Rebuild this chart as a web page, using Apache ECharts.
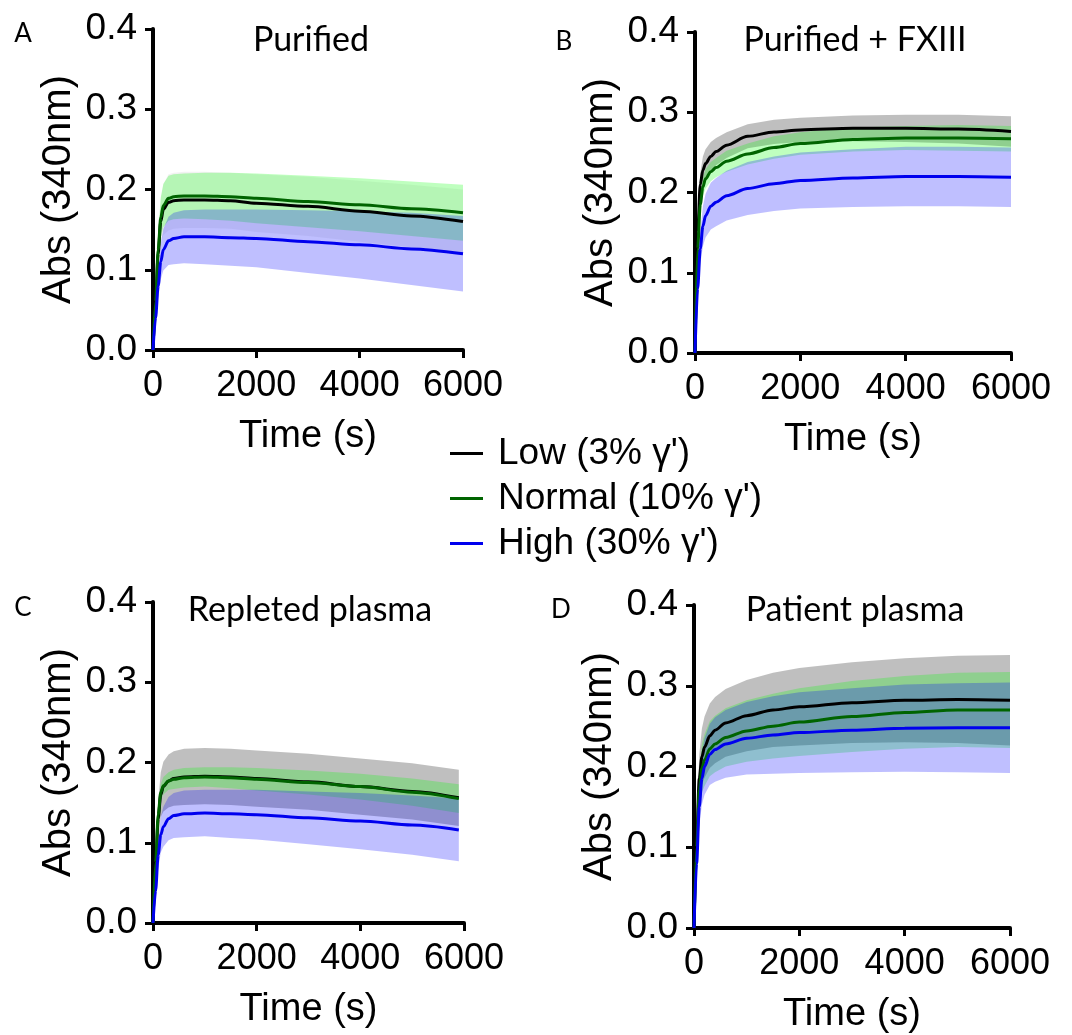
<!DOCTYPE html>
<html>
<head>
<meta charset="utf-8">
<script src="https://cdn.jsdelivr.net/npm/echarts@6/dist/echarts.min.js"></script>
<style>
  html, body { margin: 0; padding: 0; background: #fff; }
  #chart { width: 1072px; height: 1035px; }
</style>
</head>
<body>
<div id="chart"></div>
<script>
// time points (s)
const time = [0, 50, 100, 150, 200, 300, 400, 600, 1000, 1500, 2000, 3000, 4000, 5000, 6000];
const timeC = [0, 50, 100, 150, 200, 300, 400, 600, 1000, 1500, 2000, 3000, 4000, 5000, 5900];

const seriesNames = ["Low (3% \u03b3')", "Normal (10% \u03b3')", "High (30% \u03b3')"];

// A: Purified
const lowA = [0, 0.06, 0.12, 0.16, 0.175, 0.184, 0.186, 0.187, 0.187, 0.186, 0.183, 0.179, 0.173, 0.167, 0.160];
const normalA = [0, 0.06, 0.125, 0.165, 0.18, 0.189, 0.191, 0.192, 0.192, 0.191, 0.189, 0.185, 0.181, 0.176, 0.171];
const highA = [0, 0.04, 0.08, 0.11, 0.125, 0.136, 0.139, 0.141, 0.141, 0.140, 0.139, 0.135, 0.131, 0.126, 0.120];
const lowSdA = [0, 0.01, 0.02, 0.028, 0.032, 0.035, 0.035, 0.035, 0.035, 0.035, 0.036, 0.037, 0.038, 0.039, 0.04];
const normalSdA = [0, 0.01, 0.02, 0.025, 0.027, 0.028, 0.028, 0.028, 0.029, 0.03, 0.031, 0.032, 0.033, 0.034, 0.035];
const highSdA = [0, 0.008, 0.016, 0.022, 0.026, 0.03, 0.032, 0.033, 0.034, 0.035, 0.036, 0.039, 0.042, 0.045, 0.047];

// B: Purified + FXIII
const lowB = [0, 0.15, 0.21, 0.228, 0.236, 0.245, 0.251, 0.259, 0.270, 0.2755, 0.278, 0.280, 0.280, 0.279, 0.276];
const normalB = [0, 0.13, 0.185, 0.207, 0.217, 0.226, 0.231, 0.239, 0.248, 0.256, 0.261, 0.266, 0.268, 0.268, 0.267];
const highB = [0, 0.08, 0.13, 0.158, 0.171, 0.183, 0.188, 0.196, 0.205, 0.211, 0.215, 0.218, 0.220, 0.220, 0.219];
const lowSdB = [0, 0.008, 0.014, 0.017, 0.018, 0.018, 0.017, 0.016, 0.015, 0.015, 0.015, 0.016, 0.017, 0.018, 0.019];
const normalSdB = [0, 0.006, 0.01, 0.011, 0.012, 0.012, 0.012, 0.013, 0.013, 0.014, 0.014, 0.015, 0.015, 0.016, 0.016];
const highSdB = [0, 0.01, 0.02, 0.025, 0.027, 0.029, 0.03, 0.031, 0.033, 0.034, 0.035, 0.036, 0.037, 0.037, 0.037];

// C: Repleted plasma
const lowC = [0, 0.07, 0.13, 0.16, 0.170, 0.177, 0.180, 0.182, 0.183, 0.182, 0.180, 0.176, 0.170, 0.164, 0.156];
const normalC = [0, 0.075, 0.135, 0.163, 0.171, 0.177, 0.179, 0.181, 0.182, 0.181, 0.179, 0.175, 0.170, 0.163, 0.155];
const highC = [0, 0.04, 0.085, 0.11, 0.12, 0.130, 0.134, 0.136, 0.137, 0.136, 0.135, 0.131, 0.127, 0.122, 0.116];
const lowSdC = [0, 0.012, 0.022, 0.028, 0.031, 0.033, 0.034, 0.035, 0.035, 0.035, 0.035, 0.035, 0.035, 0.035, 0.035];
const normalSdC = [0, 0.005, 0.008, 0.01, 0.011, 0.011, 0.012, 0.012, 0.012, 0.013, 0.014, 0.015, 0.016, 0.017, 0.018];
const highSdC = [0, 0.01, 0.018, 0.022, 0.025, 0.027, 0.028, 0.029, 0.029, 0.03, 0.031, 0.033, 0.035, 0.037, 0.039];

// D: Patient plasma
const lowD = [0, 0.11, 0.185, 0.212, 0.224, 0.238, 0.245, 0.254, 0.263, 0.270, 0.274, 0.279, 0.282, 0.283, 0.282];
const normalD = [0, 0.10, 0.17, 0.198, 0.208, 0.222, 0.228, 0.236, 0.244, 0.250, 0.255, 0.262, 0.267, 0.270, 0.270];
const highD = [0, 0.08, 0.15, 0.185, 0.200, 0.215, 0.221, 0.228, 0.235, 0.239, 0.242, 0.245, 0.2475, 0.248, 0.248];
const lowSdD = [0, 0.015, 0.03, 0.035, 0.038, 0.04, 0.041, 0.042, 0.044, 0.046, 0.048, 0.05, 0.052, 0.054, 0.056];
const normalSdD = [0, 0.012, 0.025, 0.03, 0.032, 0.034, 0.035, 0.036, 0.038, 0.04, 0.042, 0.044, 0.045, 0.046, 0.047];
const highSdD = [0, 0.012, 0.025, 0.032, 0.035, 0.038, 0.04, 0.042, 0.045, 0.048, 0.05, 0.052, 0.054, 0.055, 0.056];

const lineColors = ['#000000', '#006400', '#0000ee'];
const bandColors = ['#000000', '#00ff00', '#0000ff'];

const panels = [
  { letter: 'A', title: 'Purified', t: time, means: [lowA, normalA, highA], sds: [lowSdA, normalSdA, highSdA],
    bandOpacity: [0.05, 0.25, 0.25],
    grid: { left: 153, top: 29, width: 310, height: 321 }, titleX: 311, titleY: 40, letterX: 23, letterY: 34 },
  { letter: 'B', title: 'Purified + FXIII', t: time, means: [lowB, normalB, highB], sds: [lowSdB, normalSdB, highSdB],
    bandOpacity: [0.25, 0.25, 0.25],
    grid: { left: 695, top: 32, width: 316, height: 321 }, titleX: 855, titleY: 40, letterX: 564, letterY: 42 },
  { letter: 'C', title: 'Repleted plasma', t: timeC, means: [lowC, normalC, highC], sds: [lowSdC, normalSdC, highSdC],
    bandOpacity: [0.25, 0.25, 0.25],
    grid: { left: 153, top: 602, width: 311, height: 321 }, titleX: 310, titleY: 610, letterX: 23, letterY: 608 },
  { letter: 'D', title: 'Patient plasma', t: time, means: [lowD, normalD, highD], sds: [lowSdD, normalSdD, highSdD],
    bandOpacity: [0.25, 0.25, 0.25],
    grid: { left: 694, top: 605, width: 316, height: 323 }, titleX: 855, titleY: 610, letterX: 561, letterY: 610 }
];

const grids = [], xAxes = [], yAxes = [], series = [], graphics = [];

panels.forEach((p, i) => {
  grids.push(p.grid);
  xAxes.push({
    type: 'value', gridIndex: i, min: 0, max: 6000, interval: 2000,
    name: 'Time (s)', nameLocation: 'middle', nameGap: 68,
    nameTextStyle: { fontFamily: 'Liberation Sans', fontSize: 38, color: '#000' },
    axisLine: { lineStyle: { color: '#000', width: 4 } },
    axisTick: { length: 8, lineStyle: { color: '#000', width: 3 } },
    axisLabel: { margin: 18, fontFamily: 'Liberation Sans', fontSize: 36, color: '#000',
      formatter: v => String(v) },
    splitLine: { show: false }
  });
  yAxes.push({
    type: 'value', gridIndex: i, min: 0, max: 0.4, interval: 0.1,
    name: 'Abs (340nm)', nameLocation: 'middle', nameGap: 74,
    nameTextStyle: { fontFamily: 'Liberation Sans', fontSize: 40, color: '#000' },
    axisLine: { lineStyle: { color: '#000', width: 4 } },
    axisTick: { length: 8, lineStyle: { color: '#000', width: 3 } },
    axisLabel: { margin: 16, fontFamily: 'Liberation Sans', fontSize: 37, color: '#000',
      formatter: v => v.toFixed(1) },
    splitLine: { show: false }
  });

  // shaded bands (mean ± sd) as polygons through the axis scales
  p.means.forEach((m, k) => {
    const sd = p.sds[k];
    const upper = p.t.map((t, j) => [t, m[j] + sd[j]]);
    const lower = p.t.map((t, j) => [t, m[j] - sd[j]]);
    series.push({
      type: 'custom', xAxisIndex: i, yAxisIndex: i, silent: true, z: 1,
      data: [[0, 0]],
      renderItem: (params, api) => {
        const pts = upper.map(d => api.coord(d)).concat(lower.slice().reverse().map(d => api.coord(d)));
        return {
          type: 'polygon',
          shape: { points: pts },
          style: { fill: bandColors[k], opacity: p.bandOpacity[k] }
        };
      },
      clip: true
    });
  });
  // mean lines
  p.means.forEach((m, k) => {
    series.push({
      name: seriesNames[k], type: 'line', xAxisIndex: i, yAxisIndex: i, symbol: 'none',
      smooth: 0.3, smoothMonotone: 'x', silent: true, z: 5,
      color: lineColors[k],
      lineStyle: { color: lineColors[k], width: 3 },
      data: p.t.map((t, j) => [t, m[j]])
    });
  });

  graphics.push({
    type: 'text', x: p.titleX, y: p.titleY,
    style: { text: p.title, font: '34px Lato', fill: '#000', textAlign: 'center', textVerticalAlign: 'middle' }
  });
  graphics.push({
    type: 'text', x: p.letterX, y: p.letterY,
    style: { text: p.letter, font: '26px Lato', fill: '#000', textAlign: 'center', textVerticalAlign: 'middle' }
  });
});

const chart = echarts.init(document.getElementById('chart'), null, { renderer: 'canvas' });
chart.setOption({
  animation: false,
  backgroundColor: '#fff',
  grid: grids,
  xAxis: xAxes,
  yAxis: yAxes,
  legend: {
    data: seriesNames, orient: 'vertical', left: 445, top: 426,
    icon: 'rect', itemWidth: 33, itemHeight: 3, itemGap: 0, selectedMode: false,
    textStyle: { fontFamily: 'Liberation Sans', fontSize: 37, color: '#000', lineHeight: 45, padding: [0, 0, 0, 10] }
  },
  graphic: graphics,
  series: series
});
</script>
</body>
</html>
